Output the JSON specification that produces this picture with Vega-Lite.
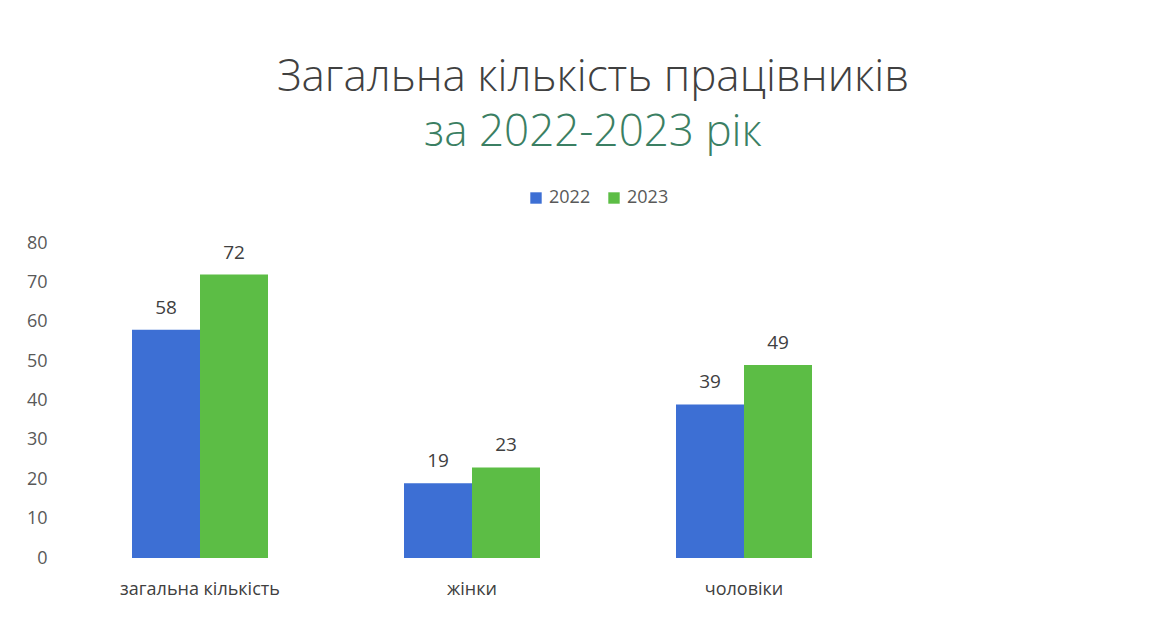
{
  "$schema": "https://vega.github.io/schema/vega-lite/v6.json",
  "autosize": "none",
  "width": 1088,
  "height": 315,
  "padding": {"left": 64, "top": 243, "right": 17, "bottom": 61},
  "background": "#ffffff",
  "config": {
    "font": "Open Sans",
    "view": {"stroke": null}
  },
  "title": {
    "text": "Загальна кількість працівників",
    "subtitle": "за 2022-2023 рік",
    "fontSize": 44,
    "fontWeight": 300,
    "color": "#404040",
    "subtitleFontSize": 44,
    "subtitleFontWeight": 300,
    "subtitleColor": "#3b7f63",
    "subtitlePadding": 11,
    "anchor": "middle",
    "dx": -15,
    "offset": 34
  },
  "data": {
    "values": [
      {"category": "загальна кількість", "year": "2022", "value": 58},
      {"category": "загальна кількість", "year": "2023", "value": 72},
      {"category": "жінки", "year": "2022", "value": 19},
      {"category": "жінки", "year": "2023", "value": 23},
      {"category": "чоловіки", "year": "2022", "value": 39},
      {"category": "чоловіки", "year": "2023", "value": 49}
    ]
  },
  "encoding": {
    "x": {
      "field": "category",
      "type": "nominal",
      "sort": null,
      "scale": {"domain": ["загальна кількість", "жінки", "чоловіки", " "], "paddingInner": 0.5, "paddingOuter": 0.25},
      "axis": {"title": null, "labelAngle": 0, "domain": false, "ticks": false, "labelFontSize": 18, "labelColor": "#404040", "labelPadding": 22}
    },
    "xOffset": {"field": "year", "type": "nominal"},
    "y": {
      "field": "value",
      "type": "quantitative",
      "scale": {"domain": [0, 80]},
      "axis": {"title": null, "values": [0, 10, 20, 30, 40, 50, 60, 70, 80], "grid": false, "domain": false, "ticks": false, "labelFontSize": 18, "labelColor": "#595959", "labelPadding": 17}
    }
  },
  "layer": [
    {
      "mark": {"type": "bar"},
      "encoding": {
        "color": {
          "field": "year",
          "type": "nominal",
          "scale": {"domain": ["2022", "2023"], "range": ["#3d6fd4", "#5cbd45"]},
          "legend": {"title": null, "orient": "none", "direction": "horizontal", "legendX": 463, "legendY": -54, "labelFontSize": 18, "labelColor": "#595959", "symbolType": "square", "symbolSize": 130, "columnPadding": 14, "labelOffset": 4}
        }
      }
    },
    {
      "mark": {"type": "text", "dy": -12, "fontSize": 19, "color": "#404040", "baseline": "bottom"},
      "encoding": {
        "text": {"field": "value", "type": "quantitative"}
      }
    }
  ]
}
